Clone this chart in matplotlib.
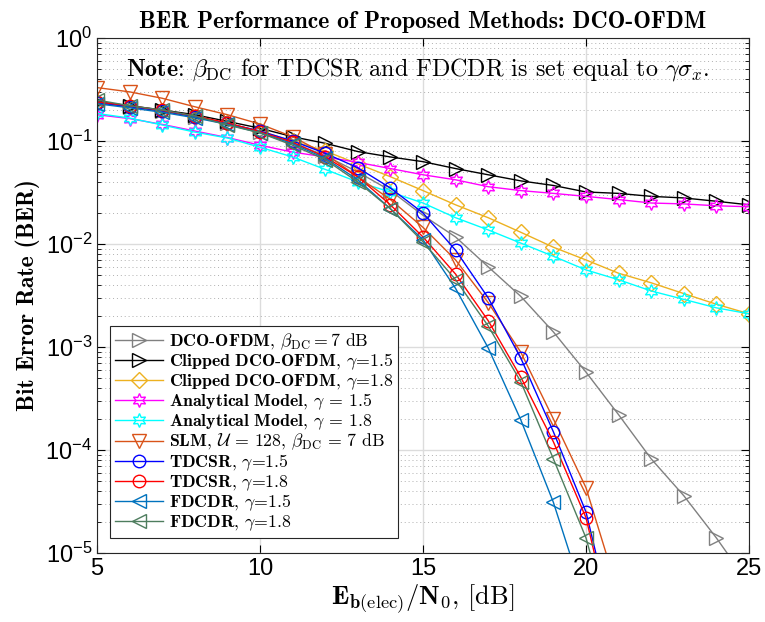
import numpy as np
import matplotlib
matplotlib.use('Agg')
import matplotlib.pyplot as plt
from matplotlib.ticker import LogLocator, NullFormatter

plt.rcParams['font.family'] = ['Liberation Sans', 'DejaVu Sans']
plt.rcParams['mathtext.fontset'] = 'cm'

#%% data

snr = np.arange(5, 26)

ber_dco = [0.235, 0.215, 0.195, 0.172, 0.148, 0.122, 0.096, 0.072, 0.050, 0.033, 0.019,
           0.0117, 0.006, 0.0031, 0.0014, 5.7e-4, 2.2e-4, 8.2e-5, 3.6e-5, 1.4e-5, 5e-6]
ber_clip15 = [0.24, 0.22, 0.20, 0.18, 0.155, 0.133, 0.11, 0.095, 0.079, 0.070, 0.063,
              0.054, 0.047, 0.041, 0.037, 0.032, 0.031, 0.029, 0.028, 0.026, 0.024]
ber_clip18 = [0.235, 0.215, 0.195, 0.172, 0.148, 0.125, 0.10, 0.08, 0.06, 0.045, 0.033,
              0.024, 0.018, 0.013, 0.0093, 0.0070, 0.0052, 0.0042, 0.0033, 0.0026, 0.0021]
ber_ana15 = [0.18, 0.165, 0.145, 0.125, 0.108, 0.091, 0.078, 0.07, 0.062, 0.054, 0.047,
             0.042, 0.036, 0.033, 0.031, 0.029, 0.027, 0.025, 0.0245, 0.0235, 0.023]
ber_ana18 = [0.185, 0.167, 0.143, 0.122, 0.107, 0.087, 0.070, 0.053, 0.040, 0.032, 0.025,
             0.018, 0.0137, 0.0102, 0.0076, 0.0056, 0.0045, 0.0035, 0.0029, 0.0024, 0.0021]
ber_slm = [0.33, 0.30, 0.26, 0.215, 0.18, 0.146, 0.11, 0.075, 0.045, 0.027, 0.0145,
           0.0070, 0.0027, 8.9e-4, 2.0e-4, 4.3e-5, 4e-6]
ber_tdcsr15 = [0.235, 0.215, 0.195, 0.172, 0.148, 0.125, 0.10, 0.076, 0.055, 0.035, 0.020,
               0.0087, 0.0030, 7.8e-4, 1.5e-4, 2.5e-5, 1.2e-6]
ber_tdcsr18 = [0.24, 0.22, 0.198, 0.175, 0.15, 0.123, 0.097, 0.07, 0.045, 0.024, 0.0117,
               0.0051, 0.0018, 5.1e-4, 1.2e-4, 2.2e-5, 1e-6]
ber_fdcdr15 = [0.23, 0.21, 0.19, 0.168, 0.145, 0.12, 0.094, 0.068, 0.042, 0.022, 0.011,
               0.0037, 9.8e-4, 1.96e-4, 3.1e-5, 3.2e-6]
ber_fdcdr18 = [0.25, 0.22, 0.20, 0.175, 0.143, 0.12, 0.091, 0.066, 0.040, 0.022, 0.0105,
               0.0045, 0.0016, 4.6e-4, 8.2e-5, 1.4e-5, 1e-6]

labels = [
    r'$\mathbf{DCO}$-$\mathbf{OFDM}$, $\beta_{\mathrm{DC}}=7$ dB',
    r'$\mathbf{Clipped\ DCO}$-$\mathbf{OFDM}$, $\gamma$=1.5',
    r'$\mathbf{Clipped\ DCO}$-$\mathbf{OFDM}$, $\gamma$=1.8',
    r'$\mathbf{Analytical\ Model}$, $\gamma$ = 1.5',
    r'$\mathbf{Analytical\ Model}$, $\gamma$ = 1.8',
    r'$\mathbf{SLM}$, $\mathcal{U}$ = 128, $\beta_{\mathrm{DC}}$ = 7 dB',
    r'$\mathbf{TDCSR}$, $\gamma$=1.5',
    r'$\mathbf{TDCSR}$, $\gamma$=1.8',
    r'$\mathbf{FDCDR}$, $\gamma$=1.5',
    r'$\mathbf{FDCDR}$, $\gamma$=1.8',
]

#%% styles

star = (6, 1, 0)
curves = [
    (ber_dco,     '#808080', '>', 10),
    (ber_clip15,  'k',       '>', 10),
    (ber_clip18,  '#EDB120', 'D', 8),
    (ber_ana15,   '#FF00FF', star, 10),
    (ber_ana18,   '#00FFFF', star, 10),
    (ber_slm,     '#D95319', 'v', 10),
    (ber_tdcsr15, '#0000FF', 'o', 9),
    (ber_tdcsr18, '#FF0000', 'o', 9),
    (ber_fdcdr15, '#0072BD', '<', 10),
    (ber_fdcdr18, '#4E7D5E', '<', 10),
]

fig = plt.figure(figsize=(7.65, 6.22), dpi=100)
ax = fig.add_axes([97/765, (622-553)/622, 652/765, 515/622])

for (y, c, m, ms), lab in zip(curves, labels):
    ax.semilogy(snr[:len(y)], y, color=c, marker=m, ms=ms, mfc='none', mec=c,
                mew=1.0, lw=1.0, label=lab)

ax.set_xlim(5, 25)
ax.set_ylim(1e-5, 1)
ax.set_xticks([5, 10, 15, 20, 25])
ax.yaxis.set_major_locator(LogLocator(base=10, numticks=10))
ax.yaxis.set_minor_locator(LogLocator(base=10, subs=np.arange(2, 10), numticks=20))
ax.yaxis.set_minor_formatter(NullFormatter())

ax.grid(True, which='major', color='#dcdcdc', lw=1.0, ls='-')
ax.grid(True, which='minor', axis='y', color='#b0b0b0', lw=0.7, ls=(0, (1, 3)))
ax.set_axisbelow(True)
ax.tick_params(which='both', direction='in', top=True, right=True, labelsize=17)
ax.tick_params(which='major', length=6)
ax.tick_params(which='minor', length=3)
ax.tick_params(axis='x', which='minor', top=False, bottom=False)
for s in ax.spines.values():
    s.set_color('#262626')

ax.set_title('BER Performance of Proposed Methods: DCO-OFDM', family='cmb10',
             fontsize=17, pad=7)
ax.set_ylabel('Bit Error Rate (BER)', family='cmb10', fontsize=17, labelpad=4)
ax.set_xlabel(r'$\mathbf{E}_{\mathbf{b}(\mathrm{elec})}/\mathbf{N}_{\mathbf{0}}$, [dB]',
              family='cmr10', fontsize=19, labelpad=2)

ax.text(0.044, 0.938,
        r'$\mathbf{Note}$: $\beta_{\mathrm{DC}}$ for TDCSR and FDCDR is set equal to $\gamma\sigma_x$.',
        transform=ax.transAxes, family='cmr10', fontsize=17.3, va='center', ha='left')

leg = ax.legend(loc='lower left', bbox_to_anchor=(0.02, 0.029), borderaxespad=0,
                prop={'family': 'cmr10', 'size': 12.8}, fancybox=False,
                edgecolor='#262626', framealpha=1, handlelength=2.7,
                labelspacing=0.0, borderpad=0.3, handletextpad=0.3)
leg.get_frame().set_linewidth(0.8)

fig.savefig('out.png', dpi=100)
